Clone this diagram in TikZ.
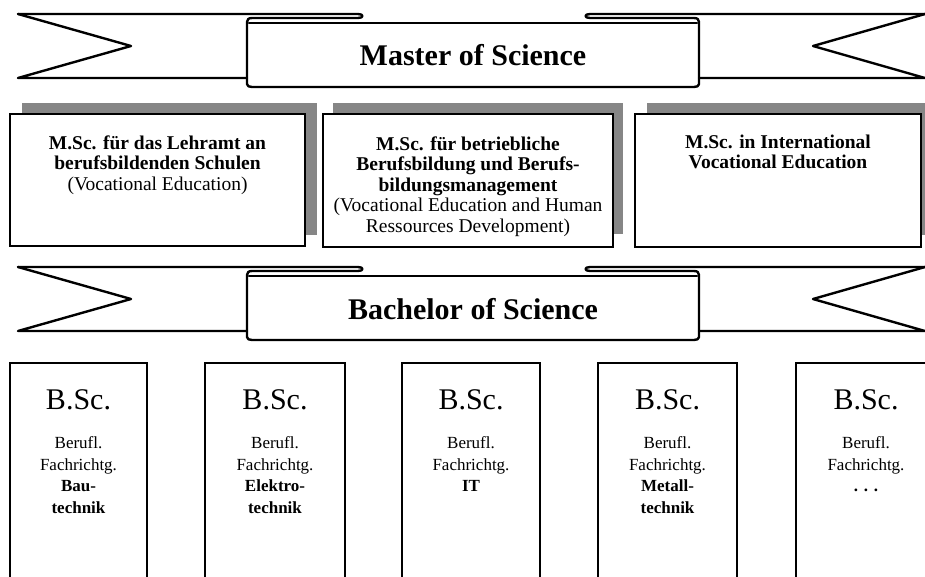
\documentclass[tikz,border=0pt]{standalone}
\usepackage{fontspec}
\setmainfont{Liberation Serif}
\definecolor{shade}{RGB}{134,134,134}
\begin{document}
\begin{tikzpicture}[x=1pt,y=-1pt,
  band/.style={line width=2.4pt, line join=round, line cap=round},
  frame/.style={line width=2.7pt, line join=miter},
  backshade/.style={fill=shade},
  title/.style={font=\bfseries\fontsize{30}{34}\selectfont, anchor=base, inner sep=0pt},
  mtext/.style={font=\fontsize{19.5}{20.5}\selectfont, align=center, anchor=north, inner sep=0pt},
  degree/.style={font=\fontsize{30}{34}\selectfont, anchor=base, inner sep=0pt},
  btext/.style={font=\fontsize{17}{21.5}\selectfont, align=center, anchor=north, inner sep=0pt},
  ribbon/.pic={
    % notched tails behind the front panel
    \draw[band] (18,0) -- (131,32) -- (18,64) -- (247,64);
    \draw[band] (925,0) -- (813,32) -- (925,64) -- (699,64);
    % band top, curled folds and the front panel
    \draw[band] (18,0) -- (358,0) .. controls (364,0) and (364,4) .. (358,4)
      -- (252,4) .. controls (248.5,4) and (247,5.5) .. (247,8)
      -- (247,70) .. controls (247,72) and (249,73) .. (252,73)
      -- (694,73) .. controls (697,73) and (699,72) .. (699,70)
      -- (699,8) .. controls (699,5.5) and (697.5,4) .. (694,4)
      -- (590,4) .. controls (584,4) and (584,0) .. (590,0) -- (925,0);
    \draw[band] (249,9) -- (697,9);
  }]
\useasboundingbox (0,0) rectangle (925,576);
\clip (0,0) rectangle (925,576);

% Master ribbon
\pic at (0,14) {ribbon};
\node[title] (master) at (473,65) {Master of Science};

% Master programmes with offset shadows
\fill[backshade] (22,103) rectangle (317,235);
\fill[backshade] (333,103) rectangle (623,234);
\fill[backshade] (647,103) rectangle (935,235);
\draw[frame, fill=white] (10,114) rectangle (305,246);
\draw[frame, fill=white] (323,114) rectangle (613,247);
\draw[frame, fill=white] (635,114) rectangle (921,247);

\node[mtext] (m1) at (157.5,135.5) {\textbf{M.Sc. für das Lehramt an}\\\textbf{berufsbildenden Schulen}\\(Vocational Education)};
\node[mtext] (m2) at (468,136.5) {\textbf{M.Sc. für betriebliche}\\\textbf{Berufsbildung und Berufs-}\\\textbf{bildungsmanagement}\\(Vocational Education and Human\\Ressources Development)};
\node[mtext] (m3) at (778,134.5) {\textbf{M.Sc. in International}\\\textbf{Vocational Education}};

% Bachelor ribbon
\pic at (0,267) {ribbon};
\node[title] (bachelor) at (473,319) {Bachelor of Science};

% Bachelor programmes
\foreach \l/\r in {10/147, 205/345, 402/540, 598/737, 796/936}
  \draw[frame] (\l,600) -- (\l,363) -- (\r,363) -- (\r,600);

\node[degree] (b1) at (78.5,409) {B.Sc.};
\node[degree] (b2) at (275,409) {B.Sc.};
\node[degree] (b3) at (471,409) {B.Sc.};
\node[degree] (b4) at (667.5,409) {B.Sc.};
\node[degree] (b5) at (866,409) {B.Sc.};

\node[btext] (f1) at (78.5,436.5) {Berufl.\\Fachrichtg.\\\textbf{Bau-}\\\textbf{technik}};
\node[btext] (f2) at (275,436.5) {Berufl.\\Fachrichtg.\\\textbf{Elektro-}\\\textbf{technik}};
\node[btext] (f3) at (471,436.5) {Berufl.\\Fachrichtg.\\\textbf{IT}};
\node[btext] (f4) at (667.5,436.5) {Berufl.\\Fachrichtg.\\\textbf{Metall-}\\\textbf{technik}};
\node[btext] (f5) at (866,436.5) {Berufl.\\Fachrichtg.\\\textbf{. . .}};
\end{tikzpicture}
\end{document}
